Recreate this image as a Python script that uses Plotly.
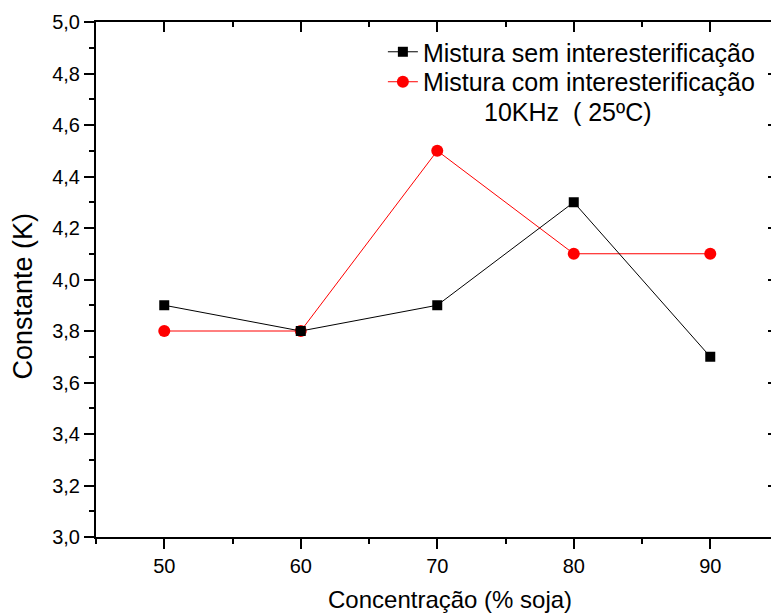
import plotly.graph_objects as go

conc = [50, 60, 70, 80, 90]
sem = [3.9, 3.8, 3.9, 4.3, 3.7]
com = [3.8, 3.8, 4.5, 4.1, 4.1]
name_sem = "Mistura sem interesterificação"
name_com = "Mistura com interesterificação"
note = "10KHz  ( 25ºC)"
x_title = "Concentração (% soja)"
y_title = "Constante (K)"

FONT = "Liberation Sans, Arial, sans-serif"
xr = [45, 94.45]
yr = [3.0, 5.0]

fig = go.Figure()
fig.add_trace(go.Scatter(x=conc, y=com, mode="lines+markers", name=name_com,
                         legend="legend2",
                         line=dict(color="#ff0000", width=1),
                         marker=dict(symbol="circle", size=12, color="#ff0000")))
fig.add_trace(go.Scatter(x=conc, y=sem, mode="lines+markers", name=name_sem,
                         legend="legend",
                         line=dict(color="#000000", width=1),
                         marker=dict(symbol="square", size=10, color="#000000")))
# invisible trace for the mirrored top/right axes
fig.add_trace(go.Scatter(x=conc, y=sem, xaxis="x2", yaxis="y2", mode="markers",
                         marker=dict(opacity=0), showlegend=False, hoverinfo="skip"))

leg = dict(x=0.425, xanchor="left", yanchor="middle", bgcolor="rgba(0,0,0,0)",
           font=dict(size=25, family=FONT))

fig.update_layout(
    width=771, height=614,
    margin=dict(l=96, r=0, t=22, b=77),
    paper_bgcolor="white", plot_bgcolor="white",
    separators=",.",
    font=dict(family=FONT, color="black"),
    showlegend=True,
    legend=dict(leg, y=0.9417),
    legend2=dict(leg, y=0.8835),
    xaxis=dict(range=xr, tickvals=conc, ticks="outside", ticklen=10, tickwidth=2,
               tickcolor="black", showline=True, linewidth=2, linecolor="black",
               mirror=True, showgrid=False, zeroline=False,
               tickfont=dict(size=20),
               minor=dict(dtick=5, tick0=45, ticks="outside", ticklen=5, tickwidth=2, tickcolor="black")),
    yaxis=dict(range=yr, dtick=0.2, tick0=3.0, tickformat=".1f", ticks="outside",
               ticklen=10, tickwidth=2, tickcolor="black", showline=True, linewidth=2,
               linecolor="black", showgrid=False, zeroline=False,
               tickfont=dict(size=20),
               minor=dict(dtick=0.1, ticks="outside", ticklen=5, tickwidth=2, tickcolor="black")),
    xaxis2=dict(range=xr, overlaying="x", side="top", tickvals=conc, ticks="inside",
                ticklen=10, tickwidth=2, tickcolor="black", showticklabels=False,
                showline=False, showgrid=False, zeroline=False,
                minor=dict(dtick=5, tick0=45, ticks="inside", ticklen=5, tickwidth=2, tickcolor="black")),
    yaxis2=dict(range=yr, overlaying="y", side="right", dtick=0.2, tick0=3.0, ticks="inside",
                ticklen=3, tickwidth=1.5, tickcolor="black", showticklabels=False,
                showline=False, showgrid=False, zeroline=False),
    annotations=[
        dict(text=note, x=0.699, y=0.825, xref="paper", yref="paper",
             xanchor="center", yanchor="middle", showarrow=False,
             font=dict(size=25, family=FONT)),
        dict(text=x_title, x=0.525, y=-0.1204, xref="paper", yref="paper",
             xanchor="center", yanchor="middle", showarrow=False,
             font=dict(size=24, family=FONT)),
        dict(text=y_title, x=-0.1089, y=0.468, xref="paper", yref="paper",
             xanchor="center", yanchor="middle", showarrow=False, textangle=-90,
             font=dict(size=27, family=FONT)),
    ],
)

fig.write_html("out.html")
